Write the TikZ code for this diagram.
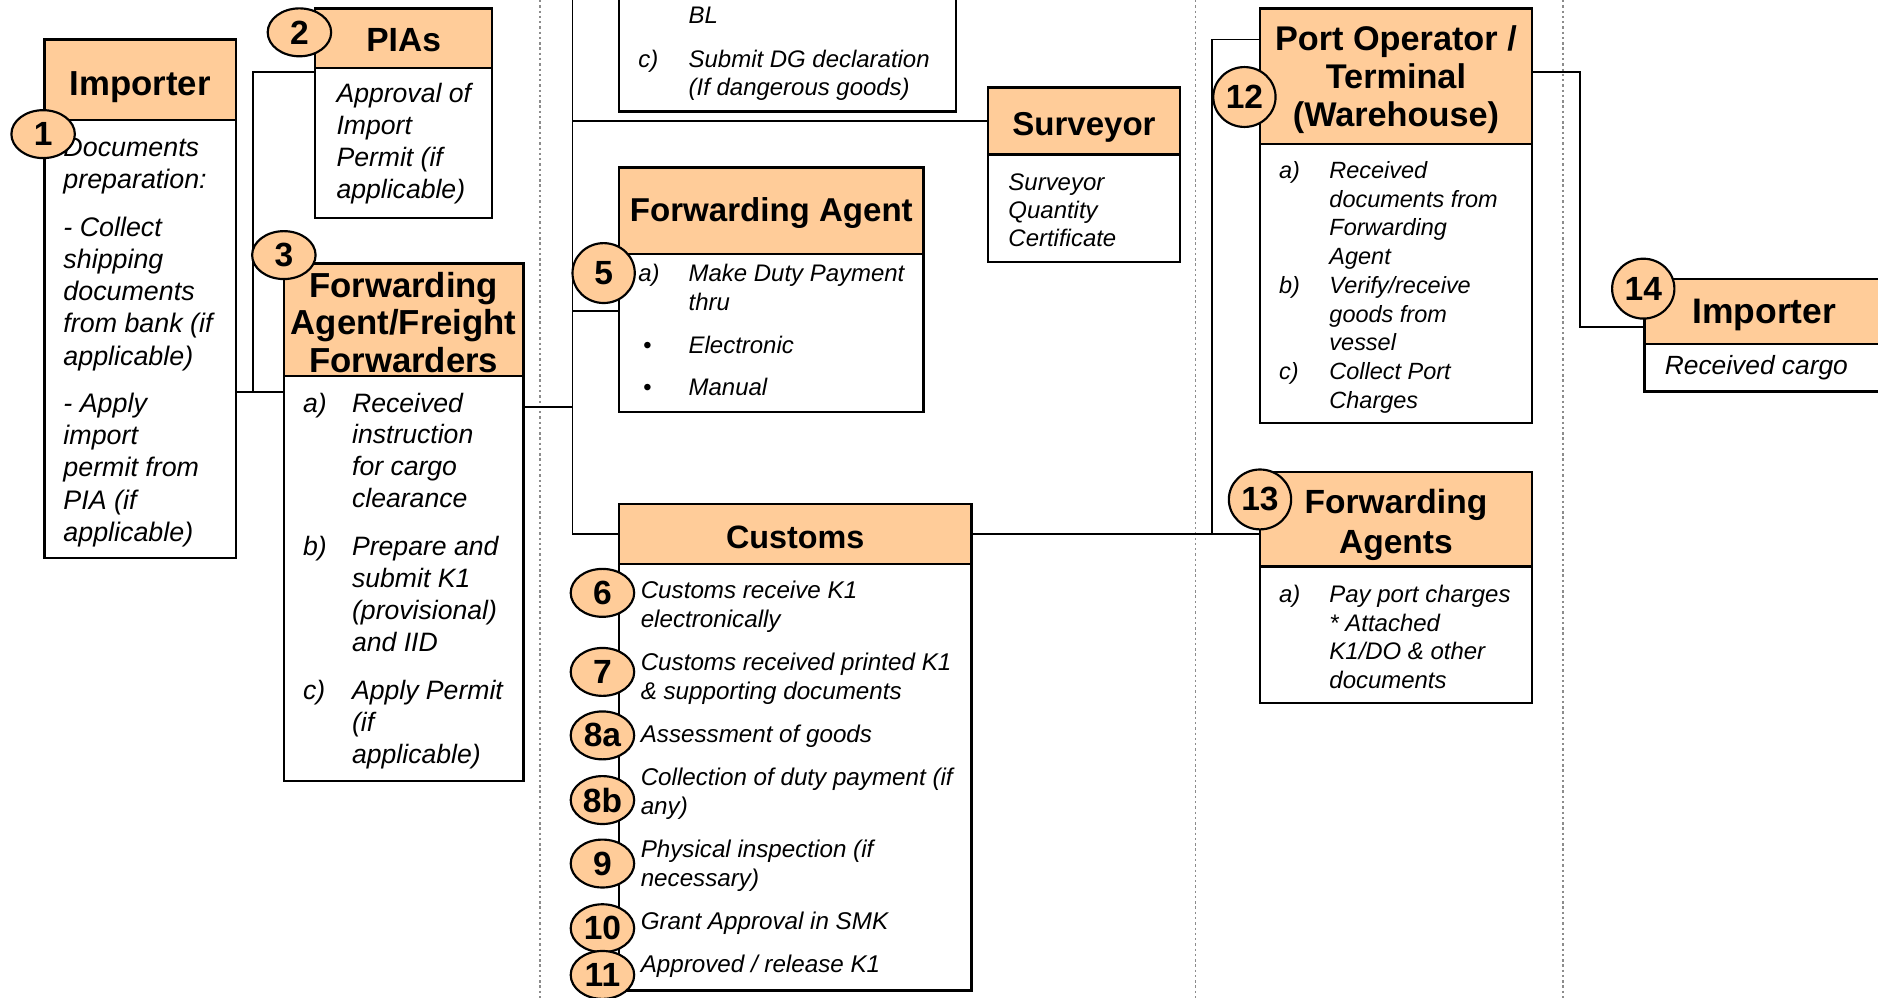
\documentclass[tikz,border=0pt]{standalone}
\usepackage{fontspec}
\setmainfont{Liberation Sans}
\usetikzlibrary{positioning,shapes.geometric}

\definecolor{hdrfill}{RGB}{255,204,153}
% left pad, text width, column spec, rows
\newcommand{\boxlines}[4]{\hspace*{#1}\makebox[#2][l]{\begin{tabular}[t]{@{}#3@{}}#4\end{tabular}}}
\newcommand{\hdrlines}[1]{\begin{tabular}[t]{@{}c@{}}#1\end{tabular}}

\tikzset{
  hdr/.style={draw, fill=hdrfill, line width=1pt, inner sep=0pt, outer sep=0pt},
  bodybox/.style={draw, fill=white, line width=1pt, inner sep=0pt, outer sep=0pt},
  num/.style={ellipse, draw, fill=hdrfill, line width=0.9pt, inner sep=0pt,
    minimum width=26.5pt, minimum height=20pt, font=\bfseries\fontsize{14}{14}\selectfont},
  numc/.style={num, minimum width=26pt, minimum height=25pt},
  link/.style={line width=0.8pt},
  sep/.style={draw=black!45, line width=0.6pt, dash pattern=on 1pt off 1.2pt}
}

\begin{document}
\begin{tikzpicture}[x=0.5pt,y=-0.5pt]
  \path[fill=white, use as bounding box] (0,0) rectangle (1568,833);

  % column separators
  \foreach \x in {451,998,1305} \draw[sep] (\x,0) -- (\x,833);

  % Importer
  \node[hdr, minimum width=80pt, minimum height=33.5pt, text height=13.4pt, text depth=0pt,
    font=\bfseries\fontsize{14.5}{15.75}\selectfont] (imph) at (117,66.5) {Importer};
  \node[bodybox, below=0pt of imph, text height=15.5pt, text depth=167.5pt, font=\itshape\fontsize{11.2}{13.4}\selectfont] (impb)
    {\boxlines{8pt}{72pt}{l}{Documents\\ preparation:\\[6.5pt] - Collect\\ shipping\\ documents\\ from bank (if\\ applicable)\\[6.5pt] - Apply\\ import\\ permit from\\ PIA (if\\ applicable)}};

  % PIAs
  \node[hdr, minimum width=74pt, minimum height=25pt, text height=11pt, text depth=0pt,
    font=\bfseries\fontsize{14}{15}\selectfont] (piah) at (337,32) {PIAs};
  \node[bodybox, below=0pt of piah, text height=14.5pt, text depth=48pt, font=\itshape\fontsize{11.1}{13.3}\selectfont] (piab)
    {\boxlines{9pt}{65pt}{l}{Approval of\\ Import\\ Permit (if\\ applicable)}};

  % Forwarding agent / freight forwarders
  \node[hdr, minimum width=100pt, minimum height=47pt, text height=0pt, text depth=19pt,
    font=\bfseries\fontsize{14.5}{15.75}\selectfont] (fah) at (337,267) {\hdrlines{Forwarding\\ Agent/Freight\\ Forwarders}};
  \node[bodybox, below=0pt of fah, text height=15pt, text depth=154pt, font=\itshape\fontsize{11.1}{13.3}\selectfont] (fab)
    {\boxlines{8pt}{92pt}{p{20.5pt}@{}l}{a) & Received\\ & instruction\\ & for cargo\\ & clearance\\[6.8pt]
      b) & Prepare and\\ & submit K1\\ & (provisional)\\ & and IID\\[6.8pt]
      c) & Apply Permit\\ & (if\\ & applicable)}};

  % DG declaration (top cut)
  \node[bodybox, anchor=south, text height=30pt, text depth=36.5pt, font=\itshape\fontsize{10}{12}\selectfont] (dgb) at (657.5,93)
    {\boxlines{8pt}{132.5pt}{p{21pt}@{}l}{& BL\\[6pt] c) & Submit DG declaration\\ & (If dangerous goods)}};

  % Surveyor
  \node[hdr, minimum width=80pt, minimum height=28pt, text height=12.2pt, text depth=0pt,
    font=\bfseries\fontsize{13.8}{15}\selectfont] (survh) at (905,101) {Surveyor};
  \node[bodybox, below=0pt of survh, text height=15pt, text depth=30pt, font=\itshape\fontsize{10}{11.75}\selectfont] (survb)
    {\boxlines{8.5pt}{71.5pt}{l}{Surveyor\\ Quantity\\ Certificate}};

  % Forwarding agent (duty)
  \node[hdr, minimum width=127pt, minimum height=36pt, text height=9pt, text depth=0pt,
    font=\bfseries\fontsize{13.8}{15}\selectfont] (fa5h) at (644,176) {Forwarding Agent};
  \node[bodybox, below=0pt of fa5h, text height=11.5pt, text depth=54.5pt, font=\itshape\fontsize{10}{12}\selectfont] (fa5b)
    {\boxlines{8pt}{119pt}{p{21pt}@{}l}{a) & Make Duty Payment\\ & thru\\[6pt]
      \hspace*{2pt}\textbullet & Electronic\\[5.5pt] \hspace*{2pt}\textbullet & Manual}};

  % Customs
  \node[hdr, minimum width=147pt, minimum height=25pt, text height=11.8pt, text depth=0pt,
    font=\bfseries\fontsize{13.5}{15}\selectfont] (cush) at (664,446) {Customs};
  \node[bodybox, below=0pt of cush, text height=14.5pt, text depth=163.5pt, font=\itshape\fontsize{10.1}{12}\selectfont] (cusb)
    {\boxlines{9pt}{138pt}{l}{Customs receive K1\\ electronically\\[6pt]
      Customs received printed K1\\ \& supporting documents\\[6pt]
      Assessment of goods\\[6pt]
      Collection of duty payment (if\\ any)\\[6pt]
      Physical inspection (if\\ necessary)\\[6pt]
      Grant Approval in SMK\\[6pt]
      Approved / release K1}};

  % Port operator
  \node[hdr, minimum width=113.5pt, minimum height=56.5pt, text height=0pt, text depth=21.5pt,
    font=\bfseries\fontsize{14.3}{16}\selectfont] (porth) at (1165.5,63.5) {\hdrlines{Port Operator /\\ Terminal\\ (Warehouse)}};
  \node[bodybox, below=0pt of porth, text height=14.5pt, text depth=102pt, font=\itshape\fontsize{9.8}{12}\selectfont] (portb)
    {\boxlines{8pt}{105.5pt}{p{21pt}@{}l}{a) & Received\\ & documents from\\ & Forwarding\\ & Agent\\
      b) & Verify/receive\\ & goods from\\ & vessel\\
      c) & Collect Port\\ & Charges}};

  % Forwarding agents (port charges)
  \node[hdr, minimum width=113.5pt, minimum height=39.5pt, text height=0pt, text depth=4.5pt,
    font=\bfseries\fontsize{14}{16.5}\selectfont] (fa13h) at (1165.5,433.5) {\hdrlines{Forwarding\\ Agents}};
  \node[bodybox, below=0pt of fa13h, text height=15pt, text depth=42pt, font=\itshape\fontsize{10}{12}\selectfont] (fa13b)
    {\boxlines{8pt}{105.5pt}{p{21pt}@{}l}{a) & Pay port charges\\ & * Attached\\ & K1/DO \& other\\ & documents}};

  % Importer (cargo)
  \node[hdr, minimum width=100pt, minimum height=27pt, text height=10.5pt, text depth=0pt,
    font=\bfseries\fontsize{14.8}{16}\selectfont] (imp2h) at (1473,260) {Importer};
  \node[bodybox, below=0pt of imp2h, text height=13pt, text depth=7pt, font=\itshape\fontsize{11}{13}\selectfont] (imp2b)
    {\boxlines{8.5pt}{91.5pt}{l}{Received cargo}};

  % connectors
  \coordinate (j1) at (211,327);
  \coordinate (j2) at (211,60);
  \draw[link] (j1 -| impb.east) -- (j1 -| fab.west);
  \draw[link] (j1) -- (j2) -- (j2 -| piab.west);

  \coordinate (btop) at (478,-10);
  \coordinate (b1) at (478,340);
  \coordinate (b5) at (478,260);
  \draw[link] (b1 -| fab.east) -- (b1);
  \draw[link] (btop) |- (cush.west);
  \draw[link] (btop |- survh.west) -- (survh.west);
  \draw[link] (b5) -- (b5 -| fa5b.west);

  \draw[link] (cush.east) -- (cush.east -| fa13h.west);
  \coordinate (c1) at (1012,33);
  \draw[link] (c1 |- cush.east) -- (c1) -- (c1 -| porth.west);
  \coordinate (d1) at (1319,60);
  \coordinate (d2) at (1319,273);
  \draw[link] (d1 -| porth.east) -- (d1) -- (d2) -- (d2 -| imp2h.west);

  % step numbers
  \node[num] (n1) at (36,112) {1};
  \node[num] (n2) at (250,27) {2};
  \node[num] (n3) at (237,213) {3};
  \node[numc] (n5) at (504,228) {5};
  \foreach \n/\y in {6/495, 7/561, 8a/614, 8b/668, 9/721, 10/775, 11/814}
    \node[num] (n\n) at (503,\y) {\n};
  \node[numc] (n12) at (1039,81) {12};
  \node[numc] (n13) at (1052,417) {13};
  \node[numc] (n14) at (1372,241) {14};
\end{tikzpicture}
\end{document}
